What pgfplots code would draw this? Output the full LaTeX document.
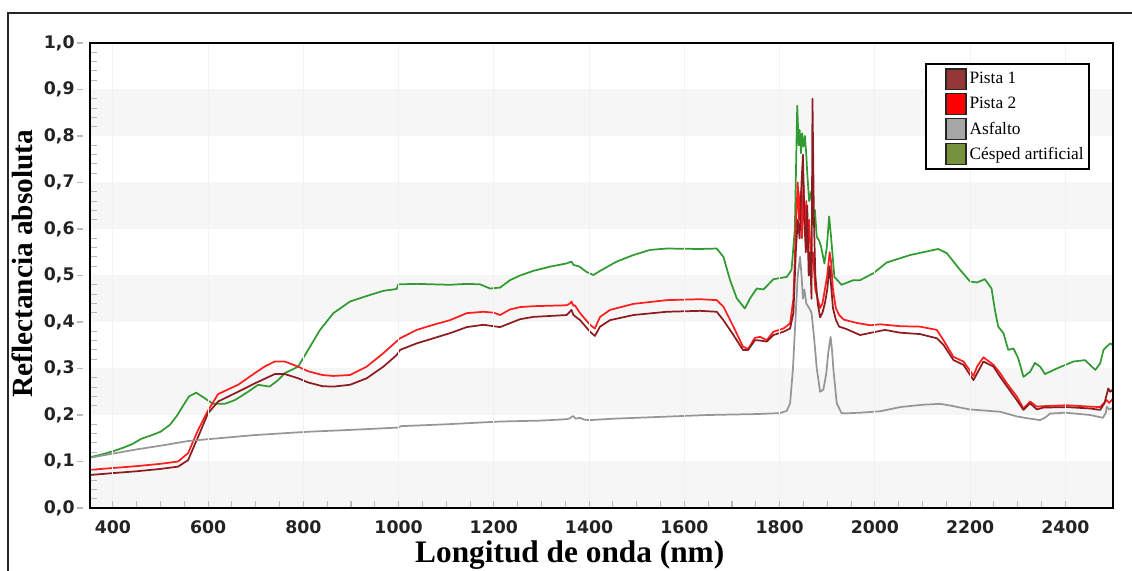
\documentclass[border=0pt]{standalone}
\usepackage{fontspec}
\setmainfont{Liberation Serif}
\newfontfamily\tickfont{DejaVu Sans}
\usepackage{pgfplots}
\usepackage{pgfplotstable}
\pgfplotsset{compat=1.18}
\definecolor{cP1}{RGB}{140,28,32}
\definecolor{cP2}{RGB}{255,30,30}
\definecolor{cAs}{RGB}{150,150,150}
\definecolor{cCe}{RGB}{48,155,48}
\definecolor{lP1}{RGB}{149,55,53}
\definecolor{lP2}{RGB}{255,0,0}
\definecolor{lAs}{RGB}{166,166,166}
\definecolor{lCe}{RGB}{118,146,60}
\definecolor{band}{RGB}{246,246,246}
\definecolor{tickc}{RGB}{185,185,185}
\definecolor{tlc}{RGB}{35,35,35}

\pgfplotstableread{
x y
352 0.108
400 0.117
450 0.126
500 0.134
558 0.144
600 0.148
700 0.157
810 0.164
900 0.168
1000 0.173
1005 0.176
1100 0.180
1213 0.186
1300 0.188
1353 0.191
1360 0.193
1366 0.198
1372 0.192
1380 0.194
1390 0.190
1402 0.189
1450 0.192
1550 0.196
1650 0.200
1750 0.202
1801 0.204
1815 0.209
1822 0.225
1828 0.30
1834 0.42
1838 0.50
1843 0.54
1846 0.50
1849 0.45
1852 0.47
1856 0.44
1862 0.43
1867 0.42
1872 0.37
1878 0.30
1885 0.25
1892 0.255
1898 0.29
1902 0.333
1907 0.368
1910 0.34
1913 0.297
1920 0.225
1930 0.204
1948 0.204
1970 0.205
2011 0.208
2053 0.217
2100 0.222
2137 0.224
2160 0.220
2199 0.212
2263 0.207
2298 0.197
2320 0.193
2347 0.189
2358 0.195
2368 0.203
2400 0.205
2452 0.200
2479 0.194
2485 0.205
2487 0.218
2492 0.212
2500 0.215
}\asfalto

\pgfplotstableread{
x y
352 0.082
400 0.086
450 0.090
500 0.095
537 0.100
558 0.118
579 0.168
600 0.210
621 0.245
663 0.265
698 0.290
720 0.305
740 0.315
761 0.315
789 0.304
810 0.294
840 0.286
863 0.284
898 0.286
933 0.304
968 0.333
1003 0.365
1038 0.383
1073 0.394
1108 0.404
1143 0.419
1178 0.422
1200 0.420
1213 0.415
1234 0.427
1255 0.432
1283 0.434
1353 0.436
1360 0.440
1363 0.444
1367 0.435
1370 0.436
1381 0.419
1402 0.394
1412 0.386
1423 0.411
1444 0.426
1493 0.439
1563 0.447
1633 0.449
1668 0.447
1682 0.433
1703 0.390
1723 0.347
1734 0.342
1748 0.366
1759 0.368
1773 0.361
1787 0.379
1808 0.386
1822 0.397
1829 0.45
1834 0.60
1838 0.70
1841 0.62
1844 0.68
1847 0.58
1850 0.70
1853 0.60
1856 0.66
1859 0.55
1862 0.62
1866 0.52
1870 0.55
1875 0.47
1880 0.45
1885 0.43
1890 0.44
1895 0.47
1900 0.50
1905 0.55
1908 0.53
1912 0.47
1918 0.43
1925 0.415
1935 0.405
1962 0.398
1990 0.393
2011 0.395
2053 0.391
2095 0.390
2130 0.383
2144 0.361
2165 0.325
2186 0.315
2200 0.295
2207 0.284
2215 0.305
2228 0.324
2249 0.308
2263 0.290
2277 0.268
2298 0.240
2312 0.214
2326 0.229
2340 0.218
2354 0.219
2403 0.221
2452 0.218
2473 0.217
2487 0.232
2492 0.226
2500 0.235
}\pistados

\pgfplotstableread{
x y
352 0.071
400 0.075
450 0.079
500 0.084
537 0.089
558 0.103
579 0.153
600 0.204
621 0.229
663 0.250
698 0.268
740 0.288
761 0.288
789 0.279
810 0.270
840 0.262
863 0.261
898 0.265
933 0.279
968 0.304
996 0.329
1003 0.340
1038 0.354
1073 0.365
1108 0.376
1143 0.389
1178 0.394
1213 0.389
1255 0.406
1283 0.411
1353 0.415
1363 0.426
1367 0.415
1381 0.404
1402 0.379
1412 0.370
1423 0.390
1444 0.404
1493 0.415
1563 0.422
1633 0.424
1668 0.422
1682 0.404
1703 0.372
1723 0.340
1734 0.340
1748 0.361
1759 0.360
1773 0.358
1787 0.372
1808 0.379
1822 0.386
1829 0.42
1834 0.55
1838 0.62
1842 0.58
1846 0.70
1849 0.76
1852 0.62
1855 0.55
1858 0.65
1861 0.50
1864 0.55
1867 0.45
1869 0.88
1872 0.62
1875 0.50
1880 0.44
1885 0.41
1890 0.42
1895 0.44
1900 0.47
1905 0.52
1908 0.48
1912 0.43
1918 0.405
1925 0.39
1940 0.385
1969 0.372
2021 0.383
2053 0.377
2095 0.374
2130 0.365
2144 0.351
2165 0.318
2186 0.308
2207 0.275
2228 0.315
2249 0.304
2263 0.282
2298 0.232
2312 0.211
2326 0.225
2340 0.212
2354 0.216
2403 0.217
2452 0.214
2473 0.211
2482 0.225
2490 0.257
2494 0.250
2500 0.255
}\pistauno

\pgfplotstableread{
x y
352 0.109
380 0.116
400 0.122
420 0.129
440 0.137
460 0.149
480 0.156
500 0.164
520 0.179
535 0.199
548 0.221
560 0.240
575 0.248
593 0.236
610 0.224
635 0.224
656 0.232
684 0.250
705 0.265
729 0.261
747 0.275
761 0.290
789 0.304
810 0.340
835 0.383
863 0.419
898 0.444
933 0.456
968 0.467
996 0.471
999 0.481
1038 0.482
1108 0.480
1143 0.482
1171 0.481
1192 0.472
1213 0.474
1234 0.490
1255 0.500
1283 0.510
1318 0.519
1353 0.526
1363 0.530
1367 0.523
1380 0.519
1394 0.508
1409 0.501
1423 0.510
1458 0.530
1493 0.544
1528 0.555
1563 0.558
1633 0.557
1668 0.558
1682 0.540
1696 0.490
1710 0.451
1727 0.429
1738 0.451
1752 0.472
1766 0.470
1787 0.492
1815 0.497
1825 0.512
1832 0.60
1837 0.865
1840 0.78
1842 0.813
1845 0.763
1847 0.806
1850 0.777
1853 0.80
1856 0.76
1858 0.72
1862 0.66
1866 0.68
1870 0.634
1874 0.641
1878 0.583
1883 0.575
1887 0.562
1894 0.526
1899 0.56
1904 0.627
1908 0.583
1915 0.497
1930 0.480
1955 0.490
1969 0.490
1997 0.505
2025 0.528
2074 0.544
2133 0.557
2151 0.548
2179 0.512
2200 0.487
2214 0.485
2231 0.492
2245 0.472
2252 0.426
2259 0.390
2270 0.376
2280 0.340
2291 0.343
2301 0.322
2312 0.282
2326 0.293
2336 0.312
2347 0.304
2357 0.288
2382 0.300
2417 0.315
2441 0.318
2463 0.297
2473 0.311
2480 0.340
2487 0.347
2494 0.354
2500 0.350
}\cesped

\begin{document}
\begin{tikzpicture}
\useasboundingbox (-67.5pt,-47.25pt) rectangle (781.5pt,381pt);
\begin{axis}[
  scale only axis, width=767.25pt, height=348.75pt,
  xmin=352, xmax=2500, ymin=0, ymax=1,
  axis on top,
  axis line style={black, line width=2.2pt},
  xtick={400,600,...,2400}, ytick={0,0.1,...,1.01},
  minor x tick num=3, minor y tick num=4,
  xtick pos=bottom, ytick pos=left,
  tick align=inside,
  major tick length=5pt, minor tick length=5.5pt,
  every tick/.style={tickc, line width=0.8pt},
  every major y tick/.append style={xshift=-10pt},
  xmajorgrids, major grid style={black!5, line width=0.6pt},
  /pgf/number format/assume math mode=true,
  ticklabel style={font=\tickfont\bfseries\fontsize{13}{13}\selectfont, text=tlc},
  yticklabel style={/pgf/number format/.cd, fixed, fixed zerofill, precision=1, use comma, /tikz/.cd, xshift=-8pt},
  xticklabel style={/pgf/number format/.cd, 1000 sep={}, /tikz/.cd, yshift=-6pt},
  xlabel={Longitud de onda (nm)},
  ylabel={Reflectancia absoluta},
  every axis x label/.style={at={(axis description cs:0.469,-0.101)}, anchor=center, font=\bfseries\fontsize{23.5}{23.5}\selectfont, text=black},
  every axis y label/.style={at={(axis description cs:-0.0665,0.525)}, rotate=90, anchor=center, font=\bfseries\fontsize{22}{22}\selectfont, text=black},
  legend style={at={(0.9775,0.957)}, anchor=north east, draw=black, line width=1.6pt, fill=white,
    font=\fontsize{13}{13}\selectfont, inner xsep=2pt, inner ysep=3pt, row sep=2pt,
    nodes={inner ysep=1pt}},
  legend cell align=left,
]
\fill[band] (352,0) rectangle (2500,0.1);
\fill[band] (352,0.2) rectangle (2500,0.3);
\fill[band] (352,0.4) rectangle (2500,0.5);
\fill[band] (352,0.6) rectangle (2500,0.7);
\fill[band] (352,0.8) rectangle (2500,0.9);

\addplot[cCe, line width=1.3pt, line join=round, forget plot] table[x=x,y=y] {\cesped};
\addplot[cP2, line width=1.3pt, line join=round, forget plot] table[x=x,y=y] {\pistados};
\addplot[cP1, line width=1.3pt, line join=round, forget plot] table[x=x,y=y] {\pistauno};
\addplot[cAs, line width=1.3pt, line join=round, forget plot] table[x=x,y=y] {\asfalto};

\addlegendimage{legend image code/.code={\path (0,0); \draw[fill=lP1, draw=black!85, line width=1.1pt] (12pt,-7.8pt) rectangle (27pt,7.8pt);}}
\addlegendentry{Pista 1}
\addlegendimage{legend image code/.code={\path (0,0); \draw[fill=lP2, draw=black!85, line width=1.1pt] (12pt,-7.8pt) rectangle (27pt,7.8pt);}}
\addlegendentry{Pista 2}
\addlegendimage{legend image code/.code={\path (0,0); \draw[fill=lAs, draw=black!85, line width=1.1pt] (12pt,-7.8pt) rectangle (27pt,7.8pt);}}
\addlegendentry{Asfalto}
\addlegendimage{legend image code/.code={\path (0,0); \draw[fill=lCe, draw=black!85, line width=1.1pt] (12pt,-7.8pt) rectangle (27pt,7.8pt);}}
\addlegendentry{Césped artificial}
\end{axis}
\draw[black!85, line width=1pt] (-61.5pt,-80pt) -- (-61.5pt,371.25pt) -- (820pt,371.25pt);
\end{tikzpicture}
\end{document}
